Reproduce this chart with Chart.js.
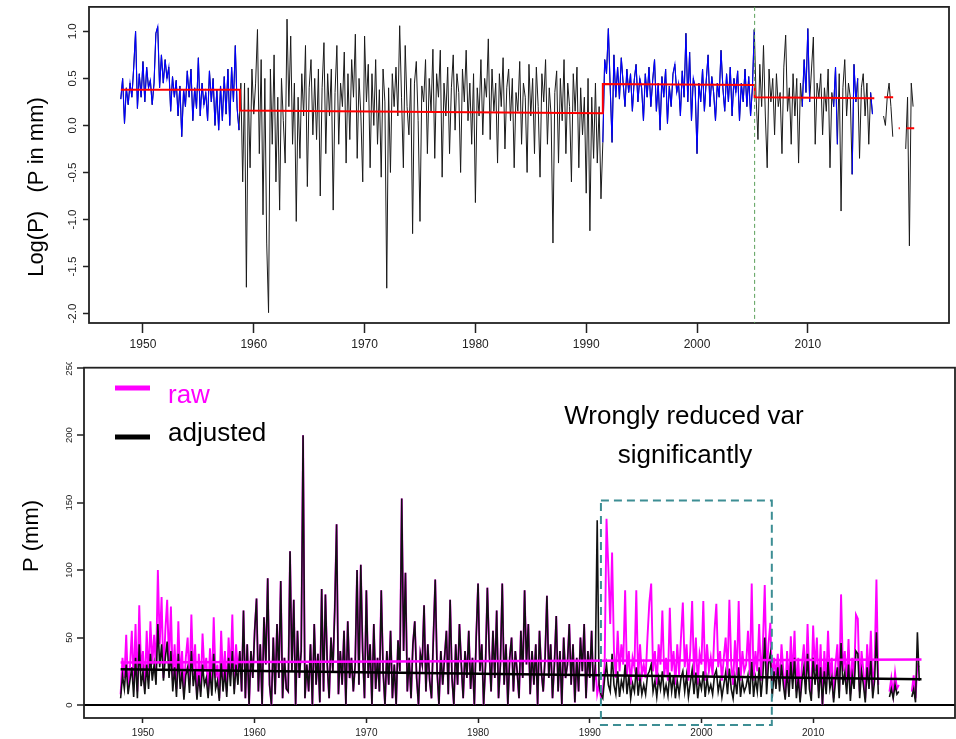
<!DOCTYPE html>
<html>
<head>
<meta charset="utf-8">
<script src="https://cdn.jsdelivr.net/npm/chart.js@4.4.1/dist/chart.umd.min.js"></script>
<style>
  body { margin: 0; background: #fff; width: 956px; height: 739px; overflow: hidden; position: relative; }
  canvas { position: absolute; left: 0; }
  #top { top: 0; }
  #bottom { top: 362px; }
</style>
</head>
<body>
<canvas id="top" width="956" height="350"></canvas>
<canvas id="bottom" width="956" height="377"></canvas>
<script>
// time axis: 6 samples per year starting 1948
const startYear = 1948;
const perYear = 6;
const xTicks = [1950, 1960, 1970, 1980, 1990, 2000, 2010];
const logTicks = [-2, -1.5, -1, -0.5, 0, 0.5, 1];
const mmTicks = [0, 50, 100, 150, 200, 250];

// top panel: log precipitation
const logP = [
  0.28, 0.50, 0.02, 0.40, 0.22, 0.45,   // 1948
  0.30, 0.62, 1.00, 0.18, 0.55, 0.30,
  0.68, 0.25, 0.62, 0.40, 0.48, 0.22,   // 1950
  0.45, 0.98, 1.05, 0.40, 0.75, 0.45,
  0.70, 0.50, 0.62, 0.15, 0.52, 0.30,
  0.48, 0.10, 0.42, -0.12, 0.38, 0.20,
  0.58, 0.30, 0.60, 0.05, 0.40, 0.18,
  0.72, 0.10, 0.45, 0.22, 0.35, 0.05,
  0.58, 0.25, 0.50, 0.00, 0.38, -0.05,
  0.42, 0.05, 0.52, 0.12, 0.60, 0.00,
  0.62, 0.25, 0.85, 0.18, -0.05, 0.45,
  -0.60, 0.45, -1.72, 0.40, -0.45, 0.60,
  0.12, 0.45, 1.02, -0.30, 0.70, -0.95,  // 1960
  0.50, -1.25, -1.99, 0.60, -0.20, 0.75,
  -0.60, 0.30, -0.90, 0.50, 0.05, -0.40,
  1.13, 0.20, 0.95, -0.20, 0.45, -1.02,
  0.30, -0.35, 0.55, 0.10, 0.85, -0.65,
  0.40, 0.70, -0.10, 0.50, -0.15, 0.60,
  -0.75, 0.40, 0.88, -0.30, 0.55, 0.10,
  0.60, -0.90, 0.35, 0.85, -0.20, 0.45,
  0.20, 0.78, -0.40, 0.55, -0.15, 0.70,
  0.30, 0.97, -0.35, 0.50, 0.10, -0.60,
  0.95, 0.25, 0.65, -0.45, 0.55, 0.00,   // 1970
  0.70, -0.20, 0.38, -0.55, 0.60, 0.25,
  -1.73, 0.40, -0.50, 0.55, 0.20, 0.62,
  0.10, 1.06, 0.30, -0.45, 0.85, 0.20,
  -0.10, 0.50, -1.15, 0.45, 0.68, 0.05,
  -1.02, 0.42, 0.25, 0.70, -0.30, 0.50,
  0.15, 0.81, -0.35, 0.55, 0.30, 0.80,
  -0.55, 0.45, 0.10, 0.62, -0.30, 0.40,
  0.75, -0.05, 0.55, 0.35, -0.50, 0.60,
  0.25, 0.80, 0.05, 0.45, -0.20, 0.55,
  -0.82, 0.40, 0.10, 0.70, -0.10, 0.50,  // 1980
  0.30, 0.92, -0.15, 0.60, 0.15, 0.45,
  -0.40, 0.55, 0.20, 0.72, -0.25, 0.40,
  0.60, 0.05, 0.50, -0.45, 0.35, 0.15,
  0.68, -0.20, 0.45, 0.30, -0.50, 0.65,
  0.10, 0.50, -0.30, 0.62, 0.20, -0.55,
  0.55, 0.25, 0.70, -0.20, 0.40, 0.10,
  -1.25, 0.35, 0.58, -0.40, 0.50, 0.05,
  0.70, -0.30, 0.45, 0.20, -0.60, 0.55,
  0.15, 0.62, -0.45, 0.40, -0.10, 0.30,
  -0.72, 0.50, -1.12, 0.30, -0.35, 0.45, // 1990
  -0.40, 0.20, -0.78, -0.18, 0.70, 0.55,
  1.03, 0.40, -0.18, 0.75, 0.30, 0.62,
  0.28, 0.72, 0.45, 0.20, 0.60, 0.35,
  0.55, 0.15, 0.48, 0.65, 0.25, 0.50,
  0.40, 0.05, 0.55, 0.30, 0.62, 0.20,
  0.48, 0.70, 0.15, 0.45, -0.05, 0.52,
  0.30, 0.60, 0.02, 0.42, 0.20, 0.55,
  0.65, 0.35, 0.45, 0.10, 0.58, 0.30,
  0.98, 0.25, 0.78, 0.05, 0.50, 0.40,
  -0.30, 0.45, 0.25, 0.60, 0.15, 0.48,   // 2000
  0.75, 0.20, 0.52, 0.35, 0.05, 0.45,
  0.30, 0.80, 0.40, 0.15, 0.55, 0.25,
  0.62, 0.10, 0.50, 0.35, 0.58, 0.05,
  0.45, 0.25, 0.60, 0.20, 0.52, 0.10,
  0.40, 1.02, 0.30, -0.15, 0.65, 0.20,
  0.85, 0.10, -0.45, 0.60, 0.25, 0.50,
  -0.10, 0.55, 0.20, 0.35, -0.30, 0.62,
  0.96, 0.15, 0.40, -0.20, 0.55, 0.10,
  0.50, -0.40, 0.45, 0.20, 0.70, 0.35,
  1.03, 0.25, 0.60, 0.94, -0.20, 0.45,   // 2010
  0.30, 0.55, -0.10, 0.40, 0.15, 0.60,
  -0.45, 0.35, 0.20, 0.62, -0.20, 0.55,
  -0.91, 0.40, 0.70, 0.10, 0.45, 0.30,
  -0.52, 0.65, 0.25, 0.50, -0.35, 0.40,
  0.55, 0.10, 0.45, -0.20, 0.35, 0.12,
  null, null, null, null, null, 0.10,
  0.00, 0.30, 0.45, 0.20, -0.12, null,
  null, null, null, null, null, -0.25,
  0.30, -1.28, 0.45, 0.20                // 2019
];
const blueSpans = [[1948, 1958.75], [1991.5, 2005.2], [2009.4, 2010.3], [2012.2, 2012.8], [2013.9, 2014.5], [2015.6, 2016]];
const stepStart = [1948, 1958.75, 1991.5, 2005.2, 2016.9, 2018.2, 2018.9];
const stepEnd = [1958.75, 1991.5, 2005.2, 2016.0, 2017.7, 2018.3, 2019.6];
const stepFrom = [0.38, 0.16, 0.44, 0.30, 0.30, -0.03, -0.03];
const stepTo = [0.38, 0.13, 0.43, 0.29, 0.30, -0.03, -0.03];
const breakYear = 2005.2;

// bottom panel: precipitation in mm
const rawP = [
  8, 35, 20, 52, 12, 28,      // 1948
  55, 15, 60, 10, 74, 25,
  40, 12, 55, 20, 62, 30,     // 1950
  52, 25, 100, 45, 80, 20,
  55, 78, 30, 73, 18, 45,
  12, 62, 20, 40, 8, 35,
  50, 15, 67, 22, 45, 6,
  38, 10, 53, 25, 35, 8,
  42, 12, 65, 20, 30, 5,
  55, 18, 40, 10, 50, 22,
  67, 12, 45, 25, 40, 10,
  70, 5, 45, 0, 40, 20,
  55, 79, 10, 45, 0, 65,      // 1960
  30, 94, 15, 0, 50, 8,
  60, 20, 92, 5, 35, 12,
  10, 114, 25, 78, 0, 55,
  20, 40, 200, 5, 30, 10,
  45, 0, 60, 15, 38, 2,
  86, 10, 82, 30, 5, 50,
  25, 70, 134, 8, 40, 15,
  55, 0, 62, 20, 35, 10,
  30, 100, 15, 104, 40, 5,
  85, 20, 45, 0, 60, 12,      // 1970
  35, 10, 85, 25, 0, 40,
  15, 55, 5, 30, 0, 48,
  25, 153, 40, 98, 10, 35,
  5, 45, 62, 20, 0, 38,
  30, 74, 10, 45, 18, 5,
  50, 93, 25, 0, 40, 15,
  35, 55, 8, 78, 20, 0,
  45, 15, 60, 30, 5, 40,
  20, 55, 12, 35, 0, 50,
  90, 25, 45, 0, 30, 87,      // 1980
  40, 10, 55, 20, 70, 5,
  30, 90, 15, 45, 0, 35,
  50, 10, 40, 25, 5, 55,
  20, 85, 30, 60, 8, 40,
  15, 45, 0, 55, 25, 10,
  35, 81, 20, 45, 5, 30,
  66, 10, 40, 0, 50, 20,
  30, 60, 15, 45, 2, 35,
  10, 50, 25, 60, 5, 40,
  20, 55, 10, 30, 8, 15,      // 1990
  5, 10, 30, 138, 101, 60,
  113, 40, 20, 55, 25, 45,
  30, 85, 22, 40, 15, 35,
  28, 85, 18, 45, 22, 30,
  20, 50, 76, 90, 25, 40,
  15, 45, 30, 70, 22, 35,
  18, 72, 25, 40, 15, 45,
  22, 50, 76, 28, 45, 18,
  40, 77, 22, 50, 15, 38,
  30, 77, 18, 45, 25, 35,     // 2000
  22, 55, 75, 28, 40, 18,
  35, 50, 22, 78, 30, 15,
  48, 22, 77, 18, 40, 25,
  30, 55, 22, 90, 18, 40,
  25, 60, 18, 45, 89, 22,
  45, 61, 15, 35, 22, 38,
  15, 45, 25, 8, 40, 12,
  51, 20, 55, 10, 35, 5,
  30, 45, 15, 60, 20, 8,
  59, 25, 50, 10, 45, 0,      // 2010
  40, 15, 55, 20, 35, 5,
  30, 45, 10, 82, 25, 40,
  15, 49, 8, 35, 20, 67,
  64, 10, 40, 25, 5, 45,
  20, 55, 10, 30, 93, 15,
  null, null, null, null, null, 10,
  20, 8, 24, 12, 15, null,
  null, null, null, null, null, 10,
  22, 5, 30, 28               // 2019
];
const adjP = [
  5, 22, 12, 30, 8, 18,       // 1948
  28, 6, 35, 5, 45, 14,
  25, 8, 30, 12, 38, 18,      // 1950
  30, 15, 60, 28, 45, 18,
  35, 47, 20, 40, 10, 28,
  6, 38, 12, 25, 4, 22,
  28, 9, 40, 14, 26, 4,
  22, 6, 30, 15, 20, 5,
  25, 7, 38, 12, 18, 3,
  32, 10, 25, 6, 35, 14,
  40, 8, 30, 15, 40, 10,
  70, 5, 45, 0, 40, 20,
  55, 79, 10, 45, 0, 65,      // 1960
  30, 94, 15, 0, 50, 8,
  60, 20, 92, 5, 35, 12,
  10, 114, 25, 78, 0, 55,
  20, 40, 200, 5, 30, 10,
  45, 0, 60, 15, 38, 2,
  86, 10, 82, 30, 5, 50,
  25, 70, 134, 8, 40, 15,
  55, 0, 62, 20, 35, 10,
  30, 100, 15, 104, 40, 5,
  85, 20, 45, 0, 60, 12,      // 1970
  35, 10, 85, 25, 0, 40,
  15, 55, 5, 30, 0, 48,
  25, 153, 40, 98, 10, 35,
  5, 45, 62, 20, 0, 38,
  30, 74, 10, 45, 18, 5,
  50, 93, 25, 0, 40, 15,
  35, 55, 8, 78, 20, 0,
  45, 15, 60, 30, 5, 40,
  20, 55, 12, 35, 0, 50,
  90, 25, 45, 0, 30, 87,      // 1980
  40, 10, 55, 20, 70, 5,
  30, 90, 15, 45, 0, 35,
  50, 10, 40, 25, 5, 55,
  20, 85, 30, 60, 8, 40,
  15, 45, 0, 55, 25, 10,
  35, 81, 20, 45, 5, 30,
  66, 10, 40, 0, 50, 20,
  30, 60, 15, 45, 2, 35,
  10, 50, 25, 60, 5, 40,
  20, 55, 10, 30, 137, 15,    // 1990
  8, 5, 20, 30, 15, 10,
  38, 15, 8, 25, 6, 18,
  12, 30, 8, 22, 5, 16,
  10, 28, 7, 20, 8, 15,
  8, 22, 25, 30, 10, 18,
  6, 20, 12, 25, 8, 15,
  7, 24, 10, 22, 5, 18,
  8, 20, 25, 10, 22, 6,
  16, 26, 8, 24, 5, 18,
  12, 25, 6, 20, 10, 15,      // 2000
  8, 22, 26, 10, 18, 6,
  15, 24, 8, 27, 12, 5,
  20, 8, 28, 6, 18, 10,
  14, 22, 8, 32, 6, 20,
  10, 28, 6, 22, 50, 8,
  30, 38, 5, 25, 12, 28,
  10, 30, 15, 4, 26, 6,
  32, 12, 35, 5, 20, 2,
  18, 28, 8, 38, 12, 3,
  35, 15, 30, 5, 28, 0,       // 2010
  25, 8, 32, 12, 20, 2,
  18, 28, 5, 46, 15, 24,
  8, 30, 3, 22, 12, 40,
  38, 5, 25, 15, 2, 28,
  12, 34, 5, 18, 54, 8,
  null, null, null, null, null, 6,
  12, 5, 15, 8, 10, null,
  null, null, null, null, null, 6,
  12, 2, 54, 18               // 2019
];
const seriesSpan = [1948, 2019.7];
const rawMean = [31.6, 33.8];
const adjTrend = [26.5, 19.1];
const boxYears = [1991.0, 2006.3];
const boxMM = [-14.7, 151.5];

const MAGENTA = '#ff00ff';
const FONT = 'Liberation Sans, Arial, sans-serif';

const toPts = (arr) => arr.map((v, i) => ({ x: startYear + i / perYear, y: v }));
const logPts = toPts(logP);
const inBlue = (x) => blueSpans.some(([a, b]) => x >= a && x <= b);
const bluePts = logPts.map((p) => (inBlue(p.x) ? p : { x: p.x, y: null }));

const stepPts = [];
stepStart.forEach((s, k) => {
  if (k > 0 && s !== stepEnd[k - 1]) stepPts.push({ x: s, y: null });
  stepPts.push({ x: s, y: stepFrom[k] }, { x: stepEnd[k], y: stepTo[k] });
});

const framePlugin = {
  id: 'frame',
  afterDatasetsDraw(chart) {
    const { ctx, chartArea: a } = chart;
    ctx.save();
    ctx.strokeStyle = '#222';
    ctx.lineWidth = 1.8;
    ctx.strokeRect(a.left, a.top, a.right - a.left, a.bottom - a.top);
    ctx.restore();
  }
};

const topExtras = {
  id: 'topExtras',
  afterDatasetsDraw(chart) {
    const { ctx, chartArea: a, scales } = chart;
    const bx = scales.x.getPixelForValue(breakYear);
    ctx.save();
    ctx.strokeStyle = '#5a9f5a';
    ctx.lineWidth = 1;
    ctx.setLineDash([4, 3]);
    ctx.beginPath();
    ctx.moveTo(bx, a.top);
    ctx.lineTo(bx, a.bottom);
    ctx.stroke();
    ctx.restore();

    ctx.save();
    ctx.translate(37, 187);
    ctx.rotate(-Math.PI / 2);
    ctx.font = '22px ' + FONT;
    ctx.fillStyle = '#000';
    ctx.textAlign = 'center';
    ctx.textBaseline = 'middle';
    ctx.fillText('Log(P)   (P in mm)', 0, 0);
    ctx.restore();
  }
};

const bottomExtras = {
  id: 'bottomExtras',
  afterDatasetsDraw(chart) {
    const { ctx, scales } = chart;
    const x0 = scales.x.getPixelForValue(boxYears[0]);
    const x1 = scales.x.getPixelForValue(boxYears[1]);
    const y0 = scales.y.getPixelForValue(boxMM[1]);
    const y1 = scales.y.getPixelForValue(boxMM[0]);
    ctx.save();
    ctx.strokeStyle = '#3d8e94';
    ctx.lineWidth = 2;
    ctx.setLineDash([8, 5]);
    ctx.strokeRect(x0, y0, x1 - x0, y1 - y0);
    ctx.restore();

    // legend
    const items = [
      { label: 'raw', color: MAGENTA, y: 26, ty: 41 },
      { label: 'adjusted', color: '#000', y: 75, ty: 79 }
    ];
    ctx.save();
    ctx.font = '26px ' + FONT;
    ctx.textBaseline = 'alphabetic';
    items.forEach((it) => {
      ctx.strokeStyle = it.color;
      ctx.lineWidth = 5;
      ctx.beginPath();
      ctx.moveTo(115, it.y);
      ctx.lineTo(150, it.y);
      ctx.stroke();
      ctx.fillStyle = it.color;
      ctx.fillText(it.label, 168, it.ty);
    });

    ctx.fillStyle = '#000';
    ctx.textAlign = 'center';
    ctx.fillText('Wrongly reduced var', 684, 62);
    ctx.fillText('significantly', 685, 101);
    ctx.restore();

    ctx.save();
    ctx.translate(32, 174);
    ctx.rotate(-Math.PI / 2);
    ctx.font = '22px ' + FONT;
    ctx.fillStyle = '#000';
    ctx.textAlign = 'center';
    ctx.textBaseline = 'middle';
    ctx.fillText('P (mm)', 0, 0);
    ctx.restore();
  }
};

const baseOptions = {
  responsive: false,
  animation: false,
  devicePixelRatio: 1,
  elements: { point: { radius: 0 }, line: { tension: 0 } },
  plugins: { legend: { display: false }, tooltip: { enabled: false } }
};

new Chart(document.getElementById('top'), {
  type: 'line',
  data: {
    datasets: [
      { label: 'segment mean', data: stepPts, borderColor: '#ff0000', borderWidth: 2, order: 0 },
      { label: 'raw', data: bluePts, borderColor: '#0000ff', borderWidth: 1.1, order: 1 },
      { label: 'adjusted', data: logPts, borderColor: '#1a1a1a', borderWidth: 1, order: 2 }
    ]
  },
  options: {
    ...baseOptions,
    layout: { padding: { top: 5, right: 7, left: 0, bottom: 0 } },
    scales: {
      x: {
        type: 'linear', min: 1945.13, max: 2022.74,
        afterFit: (s) => { s.height = 27; },
        afterBuildTicks: (s) => { s.ticks = xTicks.map((v) => ({ value: v })); },
        ticks: { font: { family: FONT, size: 12 }, color: '#222', padding: 4, maxRotation: 0, autoSkip: false, callback: (v) => String(v) },
        grid: { drawOnChartArea: false, tickLength: 10, tickColor: '#222', tickWidth: 1.5 },
        border: { display: false }
      },
      y: {
        type: 'linear', min: -2.1, max: 1.26,
        afterFit: (s) => { s.width = 89; },
        afterBuildTicks: (s) => { s.ticks = logTicks.map((v) => ({ value: v })); },
        ticks: { font: { family: FONT, size: 11.5 }, color: '#222', padding: 0, minRotation: 90, maxRotation: 90, crossAlign: 'center', autoSkip: false, callback: (v) => v.toFixed(1) },
        grid: { drawOnChartArea: false, tickLength: 6, tickColor: '#222', tickWidth: 1.5 },
        border: { display: false }
      }
    }
  },
  plugins: [framePlugin, topExtras]
});

new Chart(document.getElementById('bottom'), {
  type: 'line',
  data: {
    datasets: [
      { label: 'raw mean', data: seriesSpan.map((x, i) => ({ x, y: rawMean[i] })), borderColor: MAGENTA, borderWidth: 2.5, order: 0 },
      { label: 'adjusted trend', data: seriesSpan.map((x, i) => ({ x, y: adjTrend[i] })), borderColor: '#000', borderWidth: 2.5, order: 1 },
      { label: 'adjusted', data: toPts(adjP), borderColor: '#111', borderWidth: 1.6, order: 2 },
      { label: 'raw', data: toPts(rawP), borderColor: MAGENTA, borderWidth: 1.9, order: 3 }
    ]
  },
  options: {
    ...baseOptions,
    layout: { padding: { top: 3, right: 1, left: 0, bottom: 0 } },
    scales: {
      x: {
        type: 'linear', min: 1944.72, max: 2022.7,
        afterFit: (s) => { s.height = 21; },
        afterBuildTicks: (s) => { s.ticks = xTicks.map((v) => ({ value: v })); },
        ticks: { font: { family: FONT, size: 10 }, color: '#222', padding: 4, maxRotation: 0, autoSkip: false, callback: (v) => String(v) },
        grid: { drawOnChartArea: false, tickLength: 5, tickColor: '#222', tickWidth: 1.5 },
        border: { display: false }
      },
      y: {
        type: 'linear', min: -9.6, max: 250,
        afterFit: (s) => { s.width = 84; },
        afterBuildTicks: (s) => { s.ticks = mmTicks.map((v) => ({ value: v })); },
        ticks: { font: { family: FONT, size: 9.5 }, color: '#222', padding: 0, minRotation: 90, maxRotation: 90, crossAlign: 'center', autoSkip: false, callback: (v) => String(v) },
        grid: {
          color: (c) => (c.tick && c.tick.value === 0 ? '#000' : 'rgba(0,0,0,0)'),
          lineWidth: 2, tickLength: 7, tickColor: '#222', tickWidth: 1.5
        },
        border: { display: false }
      }
    }
  },
  plugins: [framePlugin, bottomExtras]
});
</script>
</body>
</html>
